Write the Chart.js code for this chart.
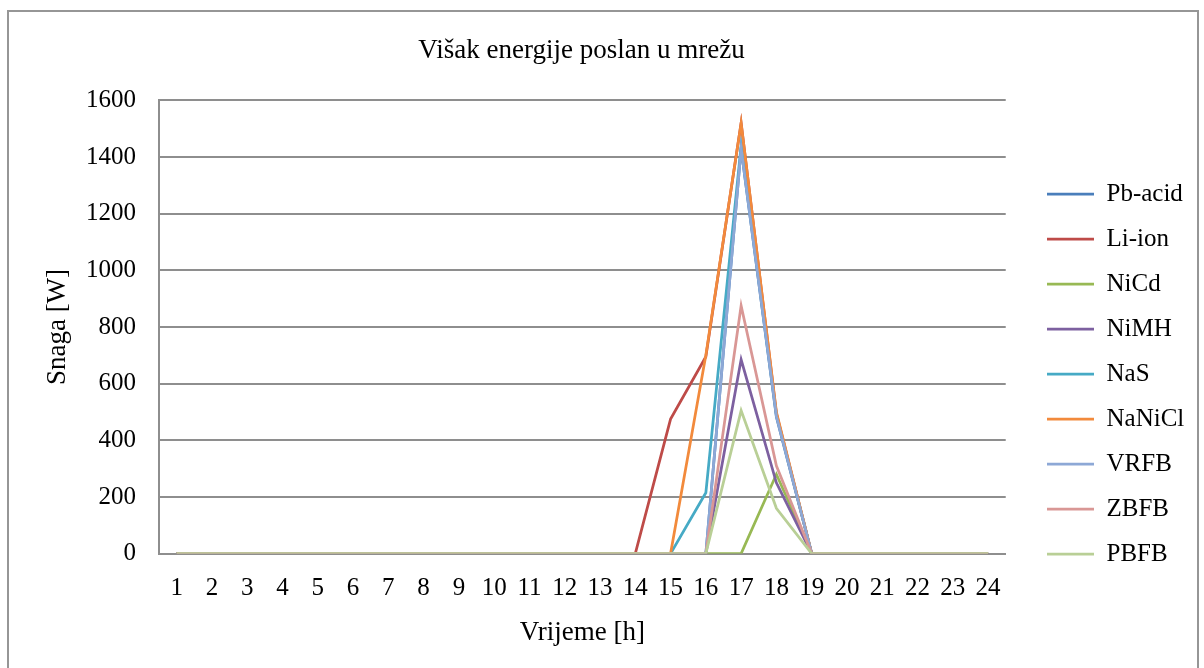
<!DOCTYPE html>
<html>
<head>
<meta charset="utf-8">
<script src="https://cdn.jsdelivr.net/npm/chart.js@4.4.1/dist/chart.umd.min.js"></script>
<style>
  html, body { margin: 0; padding: 0; background: #fff; }
  #wrap { position: relative; width: 1204px; height: 668px; overflow: hidden; }
  #frame { position: absolute; left: 7px; top: 10px; width: 1188px; height: 700px; border: 2px solid #969696; }
  #myChart { position: absolute; left: 0; top: 0; }
</style>
</head>
<body>
<div id="wrap">
  <div id="frame"></div>
  <canvas id="myChart" width="1204" height="668"></canvas>
</div>
<script>
const hours = ['1', '2', '3', '4', '5', '6', '7', '8', '9', '10', '11', '12',
  '13', '14', '15', '16', '17', '18', '19', '20', '21', '22', '23', '24']

const pbAcid = [0, 0, 0, 0, 0, 0, 0, 0, 0, 0, 0, 0, 0, 0, 0, 0, 1430, 482, 0, 0, 0, 0, 0, 0]
const liIon = [0, 0, 0, 0, 0, 0, 0, 0, 0, 0, 0, 0, 0, 0, 475, 695, 1520, 495, 0, 0, 0, 0, 0, 0]
const niCd = [0, 0, 0, 0, 0, 0, 0, 0, 0, 0, 0, 0, 0, 0, 0, 0, 0, 280, 0, 0, 0, 0, 0, 0]
const niMH = [0, 0, 0, 0, 0, 0, 0, 0, 0, 0, 0, 0, 0, 0, 0, 0, 685, 250, 0, 0, 0, 0, 0, 0]
const naS = [0, 0, 0, 0, 0, 0, 0, 0, 0, 0, 0, 0, 0, 0, 0, 215, 1440, 490, 0, 0, 0, 0, 0, 0]
const naNiCl = [0, 0, 0, 0, 0, 0, 0, 0, 0, 0, 0, 0, 0, 0, 0, 700, 1520, 500, 0, 0, 0, 0, 0, 0]
const vrfb = [0, 0, 0, 0, 0, 0, 0, 0, 0, 0, 0, 0, 0, 0, 0, 0, 1430, 485, 0, 0, 0, 0, 0, 0]
const zbfb = [0, 0, 0, 0, 0, 0, 0, 0, 0, 0, 0, 0, 0, 0, 0, 0, 875, 310, 0, 0, 0, 0, 0, 0]
const pbfb = [0, 0, 0, 0, 0, 0, 0, 0, 0, 0, 0, 0, 0, 0, 0, 0, 505, 160, 0, 0, 0, 0, 0, 0]

const seriesNames = ['Pb-acid', 'Li-ion', 'NiCd', 'NiMH', 'NaS', 'NaNiCl', 'VRFB', 'ZBFB', 'PBFB']
const seriesValues = [pbAcid, liIon, niCd, niMH, naS, naNiCl, vrfb, zbfb, pbfb]
const seriesColors = ['#4A7EBB', '#BE4B48', '#98B954', '#7D60A0', '#46AAC5', '#F28A3C', '#8DA8D6', '#D99795', '#B9CF96']

const FONT = "'Liberation Serif', 'Times New Roman', serif"
const GRID = '#8e8e8e'

// move legend and title after layout so the plot area keeps its own edges
const legendShift = {
  id: 'legendShift',
  afterLayout(chart) {
    const lg = chart.legend
    const dx = 1027 - lg.left
    lg.left += dx
    lg.right += dx
    lg.top += 40
    lg.bottom += 40
    chart.titleBlock.left -= 5
    chart.titleBlock.right -= 5
  },
}

const datasets = seriesNames.map((name, i) => ({
  label: name,
  data: seriesValues[i],
  borderColor: seriesColors[i],
  backgroundColor: seriesColors[i],
  borderWidth: 2.75,
  pointRadius: 0,
  tension: 0,
  order: seriesNames.length - i,
}))

const ctx = document.getElementById('myChart').getContext('2d')
const myChart = new Chart(ctx, {
  type: 'line',
  data: { labels: hours, datasets },
  plugins: [legendShift],
  options: {
    responsive: false,
    animation: false,
    layout: { padding: { left: 0, right: 31, top: 0, bottom: 0 } },
    plugins: {
      title: {
        display: true,
        text: 'Višak energije poslan u mrežu',
        color: '#000',
        font: { family: FONT, size: 27, weight: 'normal' },
        padding: { top: 35, bottom: 33 },
      },
      legend: {
        position: 'right',
        reverse: true,
        labels: {
          color: '#000',
          font: { family: FONT, size: 25 },
          usePointStyle: true,
          pointStyle: 'line',
          pointStyleWidth: 47,
          padding: 20,
        },
      },
      tooltip: { enabled: false },
    },
    scales: {
      x: {
        offset: true,
        grid: { display: false, drawTicks: false },
        border: { color: GRID, width: 2 },
        ticks: { color: '#000', font: { family: FONT, size: 25 }, padding: 20, maxRotation: 0, autoSkip: false },
        title: {
          display: true,
          text: 'Vrijeme [h]',
          color: '#000',
          font: { family: FONT, size: 27 },
          padding: { top: -7, bottom: 19 },
        },
      },
      y: {
        min: 0,
        max: 1600,
        afterFit(scale) { scale.width = 159 },
        grid: { color: GRID, lineWidth: 2, drawTicks: false },
        border: { color: GRID, width: 2 },
        ticks: {
          stepSize: 200,
          color: '#000',
          font: { family: FONT, size: 25 },
          padding: 23,
          callback: (value) => String(value),
        },
        title: {
          display: true,
          text: 'Snaga [W]',
          color: '#000',
          font: { family: FONT, size: 27 },
          padding: { top: 42 },
        },
      },
    },
  },
})
</script>
</body>
</html>
